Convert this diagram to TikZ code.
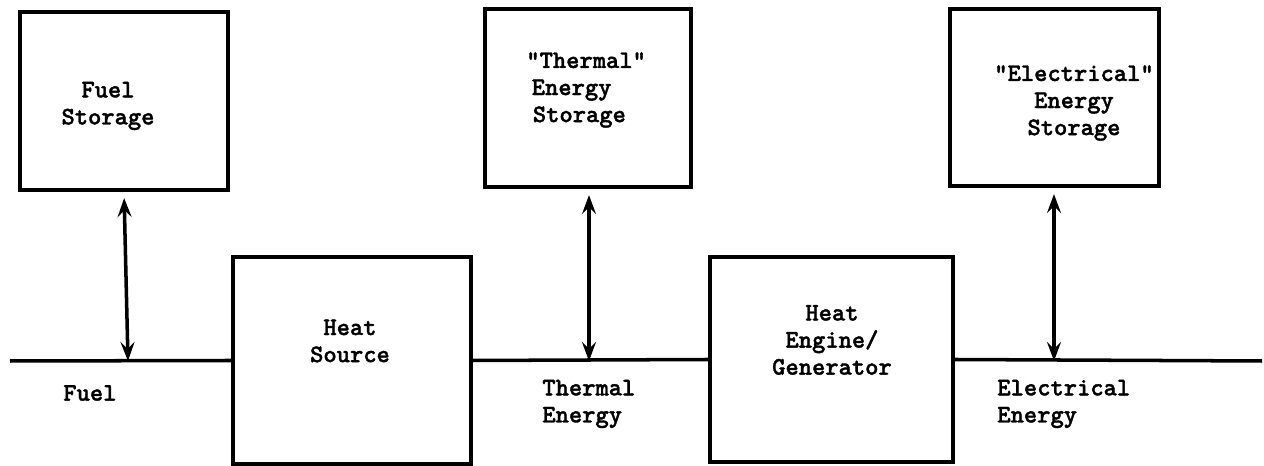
\documentclass[tikz,border=0pt]{standalone}
\usepackage{fontspec}
\usepackage{tikz}
\usetikzlibrary{positioning, arrows.meta, calc}
\newfontfamily\typefont{lmmonolt10-bold}[Extension=.otf, FakeBold=1.4]

\tikzset{
  block/.style={draw, line width=2.4pt, inner sep=0pt},
  lbl/.style={font=\typefont\fontsize{14.4}{15.4}\selectfont, inner sep=0pt},
  bus/.style={line width=2pt},
  flow/.style={{Stealth[length=3.8mm, width=2.8mm, inset=1.4mm]}-{Stealth[length=3.8mm, width=2.8mm, inset=1.4mm]}, line width=2pt, shorten <=1.2mm},
}

\begin{document}
\begin{tikzpicture}[x=0.2mm, y=-0.2mm]
\useasboundingbox (0,0) rectangle (1264,466);

% storage boxes
\node [block, minimum width=41.6mm, minimum height=35.6mm] (fuelstore) at (124,101) {};
\node [block, minimum width=41.2mm, minimum height=35.6mm] (thermstore) at (588,98) {};
\node [block, minimum width=41.8mm, minimum height=35.4mm] (elecstore) at (1054.5,97.5) {};

% converters
\node [block, minimum width=47.6mm, minimum height=41.4mm] (heatsrc) at (352,360.5) {};
\node [block, minimum width=48.6mm, minimum height=41mm] (engine) at (831.5,359.5) {};

\node [lbl, align=center] (fuelstoretxt) at (108,106) {Fuel\\Storage};
\node [lbl, align=left, anchor=west] (thermstoretxt) at (526,90) {"Thermal"\\\hspace{0.5ex}Energy\\\hspace{0.6ex}Storage};
\node [lbl, align=center] (elecstoretxt) at (1074,103) {"Electrical"\\Energy\\Storage};
\node [lbl, align=center] (heatsrctxt) at (350,341) {Heat\\Source};
\node [lbl, align=center] (enginetxt) at (832,340) {Heat\\Engine/\\Generator};

% main line
\coordinate (lineL) at (10,361);
\coordinate (lineR) at (1262,361);
\draw [bus] (lineL) -- (heatsrc.west);
\draw [bus] (heatsrc.east) -- (engine.west);
\draw [bus] (engine.east) -- (lineR);

\coordinate (fueltap) at (128,361);
\coordinate (thermtap) at (589,361);
\coordinate (electap) at (1054,361);

\draw [flow] (fuelstore.south) -- (fueltap);
\draw [flow] (thermstore.south -| thermtap) -- (thermtap);
\draw [flow] (elecstore.south -| electap) -- (electap);

\node [lbl, anchor=west] (fuellbl) at (63,393) {Fuel};
\node [lbl, align=left, anchor=west] (thermlbl) at (542,404) {Thermal\\Energy};
\node [lbl, align=left, anchor=west] (eleclbl) at (997,404) {Electrical\\Energy};

\end{tikzpicture}
\end{document}
